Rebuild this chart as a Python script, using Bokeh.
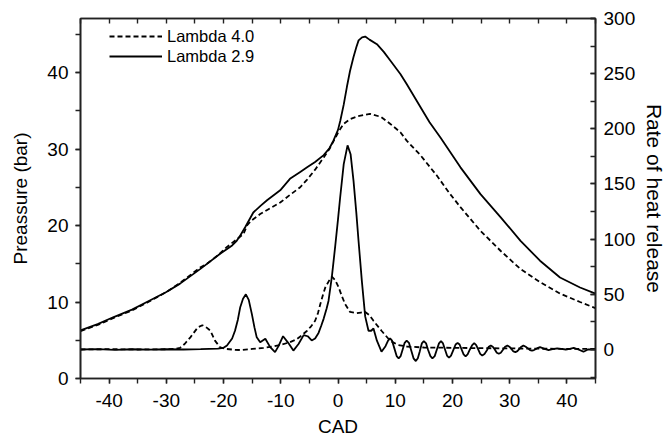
from bokeh.plotting import figure
from bokeh.models import (Range1d, LinearAxis, SingleIntervalTicker, Legend,
                          LegendItem, CustomJSTickFormatter, NumeralTickFormatter)
from bokeh.embed import file_html
from bokeh.resources import INLINE

# ---- Pressure, Lambda 2.9 (solid, left axis, bar) ----
cad_p29 = [-45, -42, -39.3, -36, -33.4, -30, -27.6, -24.1, -20.6, -18.5, -17.7, -17.0,
           -16.2, -14.8, -13.5, -12.4, -10.1, -8.4, -6.6, -5.4, -4.0, -2.5, -1.5, -0.8,
           0.0, 0.4, 1.0, 1.55, 2.1, 2.7, 3.2, 3.6, 4.2, 4.75, 5.5, 6.8, 8.0, 9.1, 10.9,
           12.0, 14.4, 16.0, 17.9, 21.4, 24.9, 28.4, 31.9, 35.3, 38.8, 42.3, 45]
p_p29 = [6.3, 7.1, 8.0, 9.0, 10.0, 11.3, 12.4, 14.3, 16.3, 17.4, 18.0, 18.8,
         19.8, 21.7, 22.6, 23.3, 24.6, 26.1, 27.0, 27.6, 28.3, 29.2, 30.1, 31.1,
         32.5, 33.7, 35.8, 38.1, 40.2, 42.0, 43.3, 44.2, 44.6, 44.7, 44.3, 43.7, 42.7, 41.6, 39.8,
         38.5, 35.5, 33.5, 31.5, 27.6, 24.1, 21.1, 18.0, 15.4, 13.2, 11.9, 11.1]

# ---- Pressure, Lambda 4.0 (dashed, left axis, bar) ----
cad_p40 = [-45, -42, -39.3, -36, -33.4, -30, -27.6, -24.1, -22.9, -21, -19.4, -17.5,
           -16.5, -15.9, -15.2, -13.6, -12, -10.1, -8.4, -6.6, -5.4, -4, -2.5, -1.5,
           -0.8, 0.2, 1.0, 2.1, 3.5, 5.6, 7.5, 9.1, 10.9, 12.0, 14.4, 17.3, 19.5, 21.4,
           24.9, 28.4, 31.9, 35.3, 38.8, 42.3, 45]
p_p40 = [6.2, 7.0, 7.9, 8.9, 9.9, 11.3, 12.5, 14.5, 15.0, 16.1, 17.2, 18.3,
         18.9, 20.0, 20.6, 21.5, 22.2, 23.0, 24.0, 25.0, 26.0, 27.3, 28.9, 30.0,
         31.0, 32.4, 33.3, 33.9, 34.3, 34.6, 34.2, 33.3, 32.2, 31.1, 29.2, 26.5, 24.2, 22.4,
         19.3, 16.7, 14.3, 12.6, 11.1, 10.0, 9.2]

# ---- Rate of heat release, Lambda 2.9 (solid, right axis) ----
cad_h29 = [-45, -42, -39, -36, -33, -30, -27, -24, -21, -20, -19.4, -18.5, -18.0, -17.5,
           -17.1, -16.6, -16.1, -15.6, -15.05, -14.6, -14.2, -13.6, -12.7, -11.85, -11.0,
           -10.4, -9.6, -8.7, -7.8, -6.9, -6.0, -5.3, -4.6, -4.0, -3.4, -2.9, -2.5, -2.0,
           -1.66, -1.07, -0.5, 0.0, 0.38, 1.0, 1.67, 2.2, 2.71, 3.2, 3.58, 4.17, 4.75, 5.33,
           5.8, 6.2, 6.8, 7.6, 8.3, 8.75, 9.1, 9.45, 9.85, 10.25, 10.6, 10.95, 11.3, 11.65,
           12.0, 12.4, 12.8, 13.2, 13.6, 13.95, 14.3, 14.65, 15.0, 15.4, 15.75, 16.15, 16.5,
           16.9, 17.25, 17.65, 18.0, 18.35, 18.7, 19.05, 19.4, 19.75, 20.15, 20.55, 20.9,
           21.25, 21.6, 21.95, 22.3, 22.65, 23.05, 23.45, 23.8, 24.15, 24.5, 24.85, 25.2,
           25.6, 26.0, 26.35, 26.7, 27.05, 27.4, 27.75, 28.1, 28.45, 28.8, 29.2, 29.6, 29.95,
           30.3, 30.65, 31.0, 31.35, 31.7, 32.05, 32.4, 32.8, 33.2, 33.55, 33.9, 34.25, 34.6,
           34.95, 35.3, 36.1, 36.8, 37.5, 38.3, 39.0, 39.8, 40.5, 41.2, 42.0, 42.9, 43.7, 45]
h_h29 = [0, 0.3, -0.3, 0.2, -0.2, 0.2, 0, 0.3, 0.8, 1.5, 3.6, 10, 17, 27,
         38, 46, 50, 45, 32, 20, 11, 6.6, 9.7, 2.1, -2.4,
         3, 12, 6, -1, 5, 13, 12, 8.2, 10, 15, 22, 28, 37,
         44, 66, 93, 118, 138, 168, 185, 177, 153, 124, 99, 62, 30, 17,
         17, 19, 8, -2, 3, 8, 10, 8, 1, -6, -8, -6, 0, 6,
         8, 6, -1, -8, -10.5, -8, -1.5, 5.5, 7.5, 5.5, -0.5, -6, -8,
         -6, -0.5, 5.5, 7.5, 5.5, 0, -5.5, -7.5, -5.5, -0.5, 4.5, 6,
         4.5, 0, -4.5, -6.3, -4.5, 0, 4, 5.7, 4, 0, -4, -5.4,
         -4, -1, 2.5, 3.6, 2.5, 0, -3, -3.9, -3, -0.5, 2.5, 3.6, 2.5,
         0.5, -1.8, -2.4, -1.5, 0.5, 2.5, 3.6, 2.5, 1, -0.5, -1, -0.5, 0.5,
         1.5, 2.1, 0.5, -0.5, 0.3, 1, 0.5, 0, 0.5, 1.5, 0, -2, 0, 0]

# ---- Rate of heat release, Lambda 4.0 (dashed, right axis) ----
cad_h40 = [-45, -40, -35, -30, -28.5, -27.6, -26.8, -25.8, -24.5, -23.7, -23.0, -22.3,
           -21.5, -20.6, -19.5, -18, -17, -15, -13, -11.3, -9.8, -8.4, -7.3, -6.4, -5.4,
           -4.7, -4.0, -3.5, -3.1, -2.6, -2.2, -1.6, -1.07, -0.5, 0.1, 0.7, 1.26, 2.1, 3.3,
           4.0, 4.75, 5.5, 6.2, 7.6, 9.1, 10.5, 12, 15, 20, 25, 30, 35, 40, 45]
h_h40 = [0, 0.3, 0, 0.2, 0.5, 1.5, 5, 11, 20, 22, 20, 17,
         8, 2, 0.5, -0.3, -0.5, 0.5, 1.5, 2.7, 4.5, 6.6, 9, 12.5, 17,
         21, 26, 33, 41, 50, 56.5, 62, 66, 63, 56.5, 48, 41, 34, 33,
         33.5, 34, 31, 26, 17, 8, 4, 2.7, 1.8, 1.5, 1.2, 1, 0.7, 0.6, 0.5]

x_label = "CAD"
left_label = "Preassure (bar)"
right_label = "Rate of heat release"
series_labels = ["Lambda 4.0", "Lambda 2.9"]

FONT = "Liberation Sans"
AXC = "#222222"

p = figure(width=669, height=439, x_range=Range1d(-45, 45), y_range=Range1d(0, 47.06),
           output_backend="svg", toolbar_location=None,
           min_border_left=80, min_border_right=73, min_border_top=18, min_border_bottom=61)
p.extra_y_ranges = {"hr": Range1d(-26.3, 300)}
p.xgrid.visible = False
p.ygrid.visible = False
p.outline_line_color = AXC
p.outline_line_width = 1.6
p.background_fill_color = "white"
p.border_fill_color = "white"


def style(ax, tick_in, tick_out):
    ax.axis_line_color = AXC
    ax.axis_line_width = 1.6
    ax.major_tick_line_color = AXC
    ax.minor_tick_line_color = AXC
    ax.major_tick_line_width = 1.4
    ax.minor_tick_line_width = 1.4
    ax.major_tick_in = tick_in
    ax.major_tick_out = tick_out
    ax.minor_tick_in = tick_in
    ax.minor_tick_out = tick_out
    ax.major_label_text_font = FONT
    ax.major_label_text_font_size = "19px"
    ax.major_label_text_color = "black"
    ax.axis_label_text_font = FONT
    ax.axis_label_text_font_size = "19px"
    ax.axis_label_text_font_style = "normal"
    ax.axis_label_text_color = "black"


xa = p.xaxis[0]
xa.ticker = SingleIntervalTicker(interval=10, num_minor_ticks=2)
xa.formatter = NumeralTickFormatter(format="0")
xa.axis_label = x_label
style(xa, 0, 5)
xa.major_label_standoff = 10
xa.axis_label_standoff = 6

ya = p.yaxis[0]
ya.ticker = SingleIntervalTicker(interval=10, num_minor_ticks=2)
ya.axis_label = left_label
style(ya, 0, 5)
ya.major_label_standoff = 7
ya.axis_label_standoff = 13

ra = LinearAxis(y_range_name="hr", axis_label=right_label,
                ticker=SingleIntervalTicker(interval=50, num_minor_ticks=2))
style(ra, 5, 0)
ra.axis_label_text_font_size = "21px"
ra.major_label_standoff = 8
ra.axis_label_standoff = 5
p.add_layout(ra, "right")

ta = LinearAxis(ticker=SingleIntervalTicker(interval=5, num_minor_ticks=0),
                formatter=CustomJSTickFormatter(code="return ''"))
style(ta, 5, 0)
ta.major_label_text_font_size = "1px"
ta.major_label_standoff = 0
p.add_layout(ta, "above")

lw = 1.8
r_p40 = p.line(cad_p40, p_p40, line_color="black", line_width=lw, line_dash="5 3")
r_p29 = p.line(cad_p29, p_p29, line_color="black", line_width=lw)
r_h40 = p.line(cad_h40, h_h40, line_color="black", line_width=lw, line_dash="5 3",
               y_range_name="hr")
r_h29 = p.line(cad_h29, h_h29, line_color="black", line_width=lw, y_range_name="hr")

legend = Legend(items=[LegendItem(label=series_labels[0], renderers=[r_p40]),
                       LegendItem(label=series_labels[1], renderers=[r_p29])],
                location=(29, 312))
legend.border_line_color = None
legend.background_fill_alpha = 0
legend.padding = 0
legend.margin = 0
legend.spacing = 0
legend.glyph_width = 53
legend.glyph_height = 20
legend.label_height = 20
legend.label_standoff = 5
legend.label_text_font = FONT
legend.label_text_font_size = "16.5px"
legend.label_text_color = "black"
p.add_layout(legend)

open("out.html", "w").write(file_html(p, INLINE))
